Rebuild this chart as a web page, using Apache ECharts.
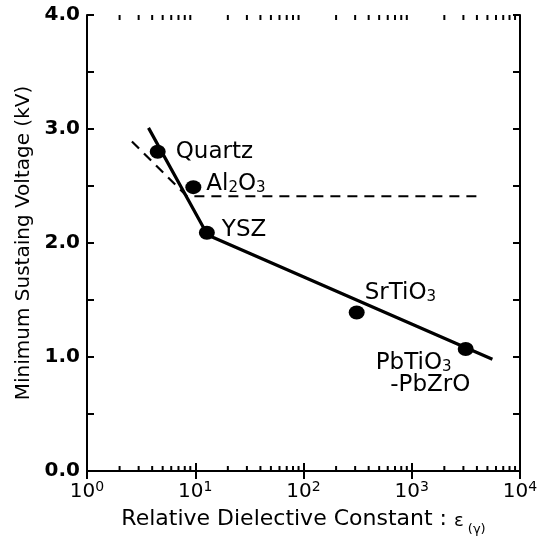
<!DOCTYPE html>
<html>
<head>
<meta charset="utf-8">
<script src="https://cdn.jsdelivr.net/npm/echarts@6/dist/echarts.min.js"></script>
<style>
  html, body { margin: 0; padding: 0; background: #fff; }
  #chart { width: 541px; height: 546px; }
</style>
</head>
<body>
<div id="chart"></div>
<script>
// measured materials
const materials = ['Quartz', 'Al2O3', 'YSZ', 'SrTiO3', 'PbTiO3-PbZrO']
const epsilon = [4.5, 9.6, 12.8, 310, 3150]
const voltage = [2.80, 2.49, 2.09, 1.39, 1.07]
const pointLabels = [
  'Quartz',
  '{a|Al}{s|2}{a|O}{s|3}',
  'YSZ',
  '{a|SrTiO}{s|3}',
  '{a|PbTiO}{s|3}\n{a|  -PbZrO}',
]

// solid fit (two segments)
const solidX = [3.7, 13.0, 5560]
const solidY = [3.01, 2.07, 0.98]
// dashed fit
const dashX = [2.6, 8.4, 4140]
const dashY = [2.89, 2.41, 2.41]

// log axis minor ticks (2..9 in each decade)
const decades = [1, 10, 100, 1000]
const minorMult = [2, 3, 4, 5, 6, 7, 8, 9]

const FONT = 'DejaVu Sans'

// label offsets from the dot centre (px)
const labelOffset = [[18, 0], [13, -3], [15, -3], [8, -19], [-90, 26]]
const DOT = [16, 14]

let minorTickX = []
decades.forEach((d) => {
  minorMult.forEach((m) => minorTickX.push(m * d))
})

let chart = echarts.init(document.getElementById('chart'))

const tickLabelRich = {
  b: { fontSize: 20, fontFamily: FONT, color: '#000', verticalAlign: 'bottom', lineHeight: 22 },
  sup: { fontSize: 14, fontFamily: FONT, color: '#000', verticalAlign: 'top', lineHeight: 14 },
}

const xAxisCommon = {
  type: 'log',
  logBase: 10,
  min: 1,
  max: 10000,
  splitNumber: 4,
  splitLine: { show: false },
  axisLine: { show: true, lineStyle: { color: '#000', width: 2 } },
  axisTick: { show: true, inside: true, length: 8, lineStyle: { color: '#000', width: 2 } },
}
const yAxisCommon = {
  type: 'value',
  min: 0,
  max: 4,
  interval: 0.5,
  splitLine: { show: false },
  axisLine: { show: true, lineStyle: { color: '#000', width: 2 } },
  axisTick: { show: true, inside: true, length: 7, lineStyle: { color: '#000', width: 2 } },
}

let option = {
  backgroundColor: '#fff',
  animation: false,
  grid: { left: 87, right: 21, top: 15, bottom: 75 },
  xAxis: [
    {
      ...xAxisCommon,
      position: 'bottom',
      name: '{a|Relative Dielective Constant : }{e|ε}{s| (γ)}',
      nameLocation: 'middle',
      nameGap: 37,
      nameTextStyle: {
        rich: {
          a: { fontSize: 22, fontFamily: FONT, color: '#000', verticalAlign: 'top' },
          e: { fontSize: 18, fontFamily: FONT, color: '#000', verticalAlign: 'top', padding: [4, 0, 0, 0] },
          s: { fontSize: 13, fontFamily: FONT, color: '#000', verticalAlign: 'bottom', padding: [15, 0, 0, 0] },
        },
      },
      axisLabel: {
        margin: 9,
        fontSize: 20,
        fontFamily: FONT,
        color: '#000',
        formatter: (v) => '{b|10}{sup|' + Math.round(Math.log10(v)) + '}',
        rich: tickLabelRich,
      },
    },
    {
      ...xAxisCommon,
      position: 'top',
      axisLabel: { show: false },
    },
  ],
  yAxis: [
    {
      ...yAxisCommon,
      position: 'left',
      name: 'Minimum Sustaing Voltage (kV)',
      nameLocation: 'middle',
      nameGap: 53,
      nameTextStyle: { fontSize: 20, fontFamily: FONT, color: '#000' },
      axisLabel: {
        margin: 7,
        fontSize: 20,
        fontWeight: 'bold',
        fontFamily: FONT,
        color: '#000',
        formatter: (v) => (v % 1 === 0 ? v.toFixed(1) : ''),
      },
    },
    {
      ...yAxisCommon,
      position: 'right',
      axisLabel: { show: false },
    },
  ],
  series: [
    {
      name: 'minorBottom',
      type: 'scatter',
      silent: true,
      clip: false,
      symbol: 'rect',
      symbolSize: [2, 5],
      symbolOffset: [0, -2.5],
      itemStyle: { color: '#000', opacity: 1 },
      data: minorTickX.map((v) => [v, 0]),
    },
    {
      name: 'minorTop',
      type: 'scatter',
      silent: true,
      clip: false,
      symbol: 'rect',
      symbolSize: [2, 5],
      symbolOffset: [0, 2.5],
      itemStyle: { color: '#000', opacity: 1 },
      data: minorTickX.map((v) => [v, 4]),
    },
    {
      name: 'dashed',
      type: 'line',
      silent: true,
      showSymbol: false,
      lineStyle: { color: '#000', width: 2.2, type: [10, 7] },
      data: dashX.map((x, i) => [x, dashY[i]]),
    },
    {
      name: 'solid',
      type: 'line',
      silent: true,
      showSymbol: false,
      lineStyle: { color: '#000', width: 3.2 },
      data: solidX.map((x, i) => [x, solidY[i]]),
    },
    {
      name: 'materials',
      type: 'scatter',
      symbol: 'circle',
      symbolSize: DOT,
      itemStyle: { color: '#000', opacity: 1 },
      z: 5,
      data: materials.map((m, i) => ({
        name: m,
        value: [epsilon[i], voltage[i]],
        label: {
          show: true,
          formatter: pointLabels[i],
          position: [labelOffset[i][0] + DOT[0] / 2, labelOffset[i][1] + DOT[1] / 2],
          align: 'left',
          verticalAlign: 'middle',
          fontSize: 23,
          fontFamily: FONT,
          color: '#000',
          opacity: 1,
          lineHeight: 22,
          rich: {
            a: { fontSize: 23, fontFamily: FONT, color: '#000', lineHeight: 22, verticalAlign: 'bottom' },
            s: { fontSize: 15, fontFamily: FONT, color: '#000', lineHeight: 16, verticalAlign: 'bottom' },
          },
        },
      })),
    },
  ],
}

chart.setOption(option)
</script>
</body>
</html>
